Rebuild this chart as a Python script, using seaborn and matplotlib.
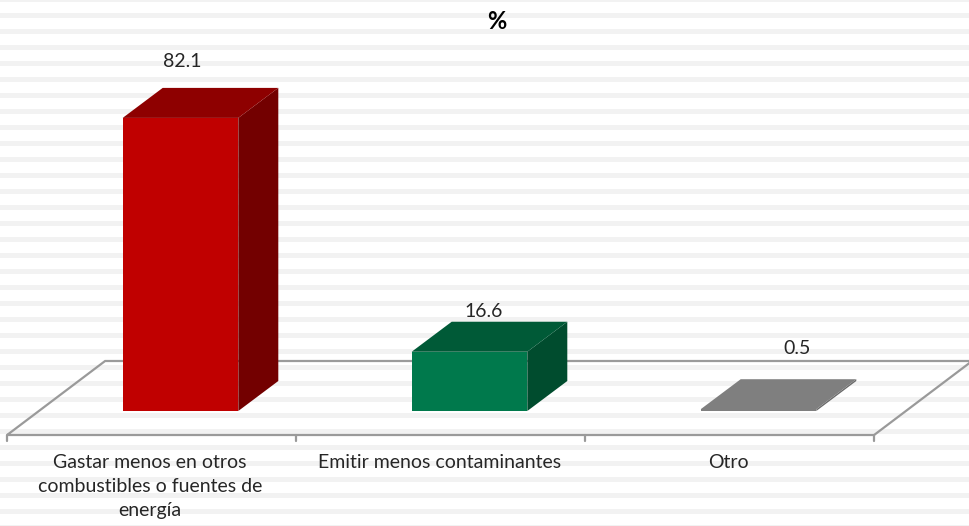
#!/usr/bin/env python3
"""3D-style bar chart of reasons (percent), drawn with seaborn + patches."""

import pandas as pd
import seaborn as sns
import matplotlib.pyplot as plt
from matplotlib.patches import Polygon

categories = [
    "Gastar menos en otros\ncombustibles o fuentes de\nenergía",
    "Emitir menos contaminantes",
    "Otro",
]
values = [82.1, 16.6, 0.5]
value_labels = ["82.1", "16.6", "0.5"]
title = "%"

front_colors = ["#C00000", "#00794C", "#7F7F7F"]
top_colors = ["#8E0000", "#005A37", "#7F7F7F"]
side_colors = ["#730000", "#004C2E", "#6A6A6A"]

# label placement as Excel put them (pixel offsets from the front-top centre)
label_dx_px = [2, 14, 39]
label_dy_px = [56, 40, 61]

# pixel geometry of the reference (970x526)
PX_PER_UNIT_Y = 3.57
PX_PER_CAT = 289.0
X0_PX = 180.5
Y0_PX = 411.0
W, H = 970, 526

BAR_DX = 40 / PX_PER_CAT
BAR_DY = 30 / PX_PER_UNIT_Y
FLOOR_DX = 98 / PX_PER_CAT
FLOOR_FRONT = (Y0_PX - 435) / PX_PER_UNIT_Y
FLOOR_BACK = (Y0_PX - 361) / PX_PER_UNIT_Y


def to_y(py: float) -> float:
    return (Y0_PX - py) / PX_PER_UNIT_Y


def main() -> None:
    sns.set_theme(style="white")
    plt.rcParams["font.family"] = ["Lato", "DejaVu Sans"]

    fig = plt.figure(figsize=(W / 100, H / 100), dpi=100)
    ax = fig.add_axes([0, 0, 1, 1])
    df = pd.DataFrame({"cat": categories, "val": values})
    sns.barplot(data=df, x="cat", y="val", hue="cat", palette=front_colors,
                saturation=1, width=0.4, legend=False, ax=ax, zorder=3, linewidth=0)

    ax.set_xlim(-X0_PX / PX_PER_CAT, (W - X0_PX) / PX_PER_CAT)
    ax.set_ylim(to_y(H), to_y(0))
    ax.axis("off")

    # striped background
    py = -3
    while py < H:
        ax.axhspan(to_y(py + 5), to_y(py), color="#F2F2F2", lw=0, zorder=0)
        py += 16

    # floor
    left, right = -0.6, 2.4
    floor = [(left, FLOOR_FRONT), (right, FLOOR_FRONT),
             (right + FLOOR_DX, FLOOR_BACK), (left + FLOOR_DX, FLOOR_BACK)]
    ax.add_patch(Polygon(floor, closed=True, fill=False, edgecolor="#9A9A9A",
                         lw=1.6, zorder=1))
    tick_len = 6 / PX_PER_UNIT_Y
    for i in range(len(categories) + 1):
        xt = left + i
        ax.plot([xt, xt], [FLOOR_FRONT, FLOOR_FRONT - tick_len], color="#9A9A9A",
                lw=1.6, zorder=1)

    # depth faces on each bar
    for i, patch in enumerate(ax.patches[: len(values)]):
        x = patch.get_x()
        w = patch.get_width()
        h = patch.get_height()
        top = [(x, h), (x + w, h), (x + w + BAR_DX, h + BAR_DY), (x + BAR_DX, h + BAR_DY)]
        side = [(x + w, 0), (x + w + BAR_DX, BAR_DY), (x + w + BAR_DX, h + BAR_DY), (x + w, h)]
        ax.add_patch(Polygon(side, closed=True, facecolor=side_colors[i], lw=0, zorder=3))
        ax.add_patch(Polygon(top, closed=True, facecolor=top_colors[i], lw=0, zorder=3))
        ax.text(x + w / 2 + label_dx_px[i] / PX_PER_CAT,
                h + label_dy_px[i] / PX_PER_UNIT_Y, value_labels[i],
                ha="center", va="center", fontsize=14, color="#262626")

    for i, cat in enumerate(categories):
        ax.text(i - 0.105, to_y(454), cat, ha="center", va="top", fontsize=14,
                color="#262626", linespacing=1.5)

    ax.text((497 - X0_PX) / PX_PER_CAT, to_y(21), title,
            ha="center", va="center", fontsize=17, fontweight="bold", color="black")

    fig.savefig("out.png", dpi=100)
    plt.close(fig)


if __name__ == "__main__":
    main()
